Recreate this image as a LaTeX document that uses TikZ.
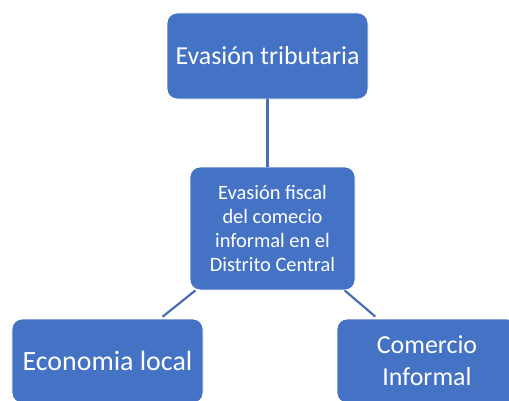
\documentclass[tikz,border=0pt]{standalone}
\usepackage{fontspec}
\setmainfont{Carlito}
\definecolor{boxblue}{HTML}{4472C4}
\definecolor{lineblue}{HTML}{4A6DB3}
\begin{document}
\begin{tikzpicture}[x=1bp,y=1bp,
  box/.style={draw=white,line width=0.8bp,fill=boxblue,rounded corners=10bp,
    text=white,align=center,inner sep=0pt},
  conn/.style={draw=lineblue,line width=2.2bp}]
\useasboundingbox (0,0) rectangle (509,400);
\node[box,minimum width=201bp,minimum height=86bp,font=\fontsize{26}{30}\selectfont] (t) at (267.5,344) {Evasión tributaria};
\node[box,minimum width=165bp,minimum height=123bp,font=\fontsize{20.5}{24}\selectfont] (c) at (272.5,171.5) {Evasión fiscal\\del comecio\\informal en el\\Distrito Central};
\node[box,minimum width=191bp,minimum height=84bp,font=\fontsize{28}{32}\selectfont] (l) at (107.5,39) {Economia local};
\node[box,minimum width=180bp,minimum height=84bp,font=\fontsize{26}{32}\selectfont] (r) at (427,39) {Comercio\\Informal};
\draw[conn] (t.south) -- (t.south |- c.north);
\draw[conn,shorten >=3bp] (c) -- (l);
\draw[conn,shorten >=3bp] (c) -- (r);
\end{tikzpicture}
\end{document}
